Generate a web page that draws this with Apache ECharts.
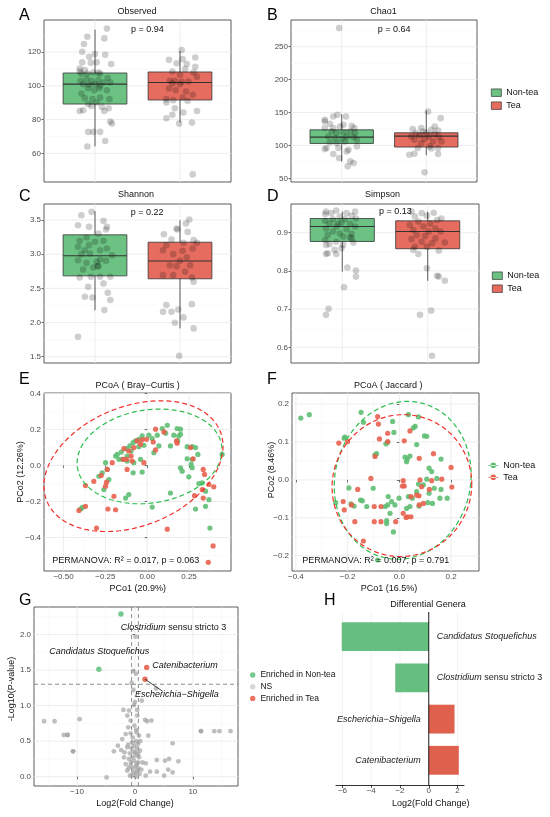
<!DOCTYPE html>
<html><head><meta charset="utf-8">
<script src="https://cdn.jsdelivr.net/npm/echarts@6/dist/echarts.min.js"></script>
<style>html,body{margin:0;padding:0;background:#fff}#c{width:550px;height:817px}</style>
</head><body><div id="c"></div>
<script>
// ===================== DATA =====================
const groups = ['Non-tea', 'Tea'];
const groupPos = [1, 2];
// boxplot stats: [lower whisker, Q1, median, Q3, upper whisker]
const obsBoxNonTea = [64.1, 89.2, 101.0, 107.6, 133.3];
const obsBoxTea = [78.4, 91.6, 102.0, 108.2, 120.6];
const chaoBoxNonTea = [75.3, 103.0, 112.6, 123.7, 147.5];
const chaoBoxTea = [85.0, 97.5, 114.1, 119.2, 153.0];
const shanBoxNonTea = [2.18, 2.683, 2.976, 3.283, 3.628];
const shanBoxTea = [1.914, 2.64, 2.90, 3.175, 3.497];
const simpBoxNonTea = [0.798, 0.877, 0.916, 0.937, 0.955];
const simpBoxTea = [0.774, 0.858, 0.903, 0.931, 0.955];
// jittered samples: [jitter offset from group position, value]
const obsPtsNonTea = [[0.14,133.9],[-0.09,129.1],[0.11,128.1],[-0.13,124.8],[-0.15,120.2],[-0.07,117.2],[0.0,118.8],[0.12,118.4],[0.19,112.9],[-0.15,113.9],[-0.05,113.7],[0.02,113.9],[-0.18,110.3],[-0.12,109.3],[-0.16,107.3],[-0.09,107.3],[-0.02,107.9],[0.06,107.3],[0.15,104.6],[-0.17,103.0],[-0.10,104.0],[-0.04,103.0],[0.04,103.4],[0.10,102.0],[0.18,102.0],[-0.14,101.0],[-0.07,100.6],[0.0,101.0],[0.06,100.0],[-0.16,95.4],[-0.08,98.6],[-0.01,97.4],[0.05,98.6],[0.14,97.4],[-0.12,92.7],[-0.03,92.1],[0.06,93.1],[0.17,92.1],[-0.08,89.1],[0.02,90.1],[-0.14,85.5],[-0.04,88.1],[0.08,87.5],[0.16,86.7],[-0.18,85.1],[0.11,85.1],[0.18,78.8],[0.20,77.6],[-0.08,72.7],[0.06,72.7],[-0.02,72.7],[0.12,67.3],[-0.09,64.0],[0.04,107.9],[-0.18,108.5]];
const obsPtsTea = [[0.02,121.2],[-0.13,115.4],[0.18,116.8],[0.03,115.8],[-0.04,113.3],[0.08,112.9],[0.18,111.3],[-0.09,108.5],[0.06,109.9],[0.16,107.9],[0,106.5],[-0.12,103.0],[-0.06,103.0],[0.02,102.4],[0.10,102.6],[0.20,105.3],[-0.09,101.4],[0,101.0],[-0.13,98.4],[-0.05,97.4],[0.07,96.6],[0.15,94.7],[0.03,93.1],[-0.16,92.1],[-0.08,91.5],[0.09,91.1],[-0.16,90.1],[0.20,85.1],[-0.06,86.7],[0.04,84.2],[-0.09,82.8],[-0.16,80.8],[-0.01,77.6],[0.14,78.2],[0.15,47.5]];
const chaoPtsNonTea = [[-0.03,278.3],[-0.05,146.5],[-0.10,143.9],[0.05,143.9],[-0.20,136.4],[-0.14,132.8],[0.02,131.3],[0.12,129.8],[-0.20,126.3],[-0.10,126.3],[-0.02,128.8],[0.15,126.3],[-0.12,121.2],[-0.06,118.7],[0.02,119.7],[0.10,121.2],[0.16,118.7],[-0.16,113.6],[-0.08,111.1],[0,109.6],[0.06,113.6],[0.14,112.6],[0.18,108.6],[-0.14,104.5],[-0.06,103.5],[0.04,106.1],[-0.18,96],[-0.04,96],[0.08,93.4],[0.18,98.5],[-0.10,86.9],[0.06,90.9],[-0.03,80.8],[0.10,75.8],[0.14,73.2],[0.07,68.2],[-0.20,94.4],[-0.20,138.9]];
const chaoPtsTea = [[0.02,151.5],[0.17,141.4],[-0.16,124.7],[-0.06,126.3],[0.06,123.7],[0.14,122.7],[-0.12,118.7],[0,119.7],[0.10,117.7],[-0.18,113.6],[-0.08,114.6],[0.03,113.6],[0.15,112.6],[-0.14,108.6],[-0.02,109.6],[0.08,106.1],[0.18,106.1],[-0.06,103.5],[0.04,98.5],[0.14,96],[-0.10,96],[0.06,95.5],[-0.20,85.9],[-0.14,87.4],[0.14,86.9],[-0.02,59.1],[0.10,128.8],[-0.04,121.2]];
const shanPtsNonTea = [[-0.04,3.619],[-0.16,3.570],[0.10,3.487],[-0.20,3.424],[-0.07,3.40],[0.14,3.40],[0.13,3.36],[0.04,3.302],[-0.10,3.244],[-0.18,3.195],[0,3.18],[0.10,3.195],[-0.07,3.132],[-0.20,3.107],[-0.12,3.058],[0.06,3.058],[0.14,3.083],[-0.16,3.0],[-0.06,3.01],[0.20,2.985],[0.06,2.922],[-0.20,2.912],[-0.10,2.873],[0.02,2.888],[0.13,2.903],[-0.02,2.805],[0.04,2.825],[-0.14,2.776],[-0.18,2.659],[-0.05,2.669],[0.06,2.669],[0.18,2.669],[-0.08,2.523],[0.10,2.571],[-0.12,2.377],[-0.03,2.367],[0.15,2.435],[0.18,2.328],[0.11,2.182],[-0.20,1.792],[0.03,2.825]];
const shanPtsTea = [[0.11,3.507],[0.07,3.448],[-0.03,3.36],[0.09,3.326],[-0.19,3.292],[-0.10,3.214],[0.16,3.205],[0.20,3.166],[-0.16,3.132],[0.04,3.166],[0.15,3.083],[-0.20,3.058],[0.03,3.049],[-0.08,3.0],[0.08,2.951],[0,2.903],[-0.12,2.839],[-0.04,2.825],[0.12,2.839],[-0.08,2.693],[0.06,2.742],[-0.20,2.693],[0.14,2.659],[0.16,2.596],[-0.16,2.255],[0.14,2.269],[-0.20,2.157],[-0.10,2.157],[-0.02,2.191],[0.04,2.075],[-0.06,1.997],[0.16,1.914],[-0.01,1.514],[-0.04,3.375]];
const simpPtsNonTea = [[-0.07,0.958],[-0.19,0.955],[-0.13,0.951],[0.15,0.955],[-0.20,0.949],[0.05,0.951],[-0.03,0.942],[0.11,0.944],[-0.11,0.935],[-0.20,0.931],[0.03,0.935],[0.16,0.937],[-0.15,0.924],[-0.01,0.926],[0.09,0.923],[-0.07,0.916],[-0.19,0.911],[0.05,0.909],[0.15,0.916],[-0.11,0.903],[-0.03,0.898],[0.11,0.897],[-0.17,0.894],[0.01,0.890],[0.09,0.888],[-0.20,0.881],[-0.07,0.876],[0.13,0.874],[-0.15,0.870],[0.01,0.868],[-0.19,0.868],[-0.09,0.855],[-0.01,0.859],[-0.19,0.844],[-0.07,0.844],[-0.17,0.846],[0.06,0.809],[0.16,0.801],[0.16,0.785],[0.02,0.757],[-0.16,0.701],[-0.19,0.685],[0.11,0.885],[-0.05,0.924]];
const simpPtsTea = [[-0.19,0.955],[-0.07,0.951],[0.07,0.952],[0.16,0.937],[-0.15,0.942],[-0.01,0.944],[0.11,0.933],[-0.11,0.929],[0.03,0.924],[-0.21,0.920],[-0.05,0.916],[0.09,0.911],[-0.17,0.907],[0.01,0.903],[0.15,0.903],[-0.13,0.894],[-0.03,0.891],[0.09,0.885],[0.20,0.874],[-0.19,0.883],[-0.07,0.876],[0.05,0.872],[-0.15,0.863],[-0.01,0.863],[-0.17,0.855],[0.13,0.853],[-0.11,0.844],[-0.01,0.807],[0.11,0.787],[0.13,0.785],[0.20,0.774],[-0.09,0.685],[0.04,0.696],[0.05,0.578]];
const pValues = ['p = 0.94', 'p = 0.64', 'p = 0.22', 'p = 0.13'];

// PCoA coordinates [PCo1, PCo2]
const brayNonTea = [[0.120,0.223],[0.090,0.205],[0.179,0.205],[0.199,0.173],[0.159,0.168],[0.183,0.136],[0.110,0.179],[0.139,0.108],[0.060,0.168],[0.030,0.149],[0.010,0.168],[-0.030,0.164],[-0.050,0.145],[-0.070,0.136],[-0.084,0.127],[-0.104,0.108],[-0.124,0.093],[-0.155,0.074],[-0.179,0.061],[-0.189,0.052],[-0.169,0.034],[-0.120,0.052],[-0.096,0.080],[-0.050,0.104],[-0.020,0.112],[-0.249,0.015],[-0.239,-0.022],[-0.269,-0.041],[-0.289,-0.060],[-0.229,-0.078],[-0.259,-0.134],[-0.149,0.034],[-0.120,0.024],[-0.080,0.015],[-0.040,0.034],[0.040,0.071],[0.070,0.108],[0.239,0.104],[0.269,0.104],[0.289,0.099],[0.303,0.061],[0.239,0.037],[0.269,0.034],[0.263,0.006],[0.269,-0.013],[0.199,-0.013],[0.209,-0.032],[0.249,-0.063],[0.309,-0.101],[0.329,-0.097],[0.349,-0.143],[0.369,-0.190],[0.349,-0.227],[0.289,-0.242],[0.030,-0.231],[0.139,-0.153],[-0.129,-0.181],[-0.110,-0.162],[-0.388,-0.233],[-0.398,-0.242],[0.375,-0.348],[0.448,0.061],[-0.030,-0.037],[-0.084,-0.041],[0.189,0.164],[0.199,0.201]];
const brayTea = [[0.050,0.201],[-0.004,0.145],[-0.030,0.142],[-0.060,0.136],[-0.040,0.117],[-0.139,0.093],[-0.110,0.080],[-0.096,0.052],[-0.143,0.034],[-0.124,0.034],[-0.120,-0.022],[-0.020,0.015],[0.036,0.130],[0.050,0.086],[-0.080,0.099],[-0.090,0.024],[-0.209,0.015],[-0.275,-0.056],[-0.239,-0.022],[-0.319,-0.088],[-0.369,-0.112],[-0.243,-0.093],[-0.249,-0.115],[-0.235,-0.242],[-0.189,-0.246],[-0.199,-0.171],[-0.303,-0.348],[-0.408,-0.250],[-0.369,-0.227],[0.175,0.136],[0.179,0.123],[0.259,0.099],[0.275,0.037],[0.335,-0.022],[0.343,-0.050],[0.369,-0.106],[0.398,-0.119],[0.329,-0.134],[0.283,-0.168],[0.335,-0.181],[0.120,-0.354],[0.394,-0.447],[0.365,-0.538],[0.100,0.186]];
const jacNonTea = [[-0.381,0.163],[-0.348,0.172],[-0.213,0.110],[-0.210,0.113],[-0.148,0.178],[-0.139,0.152],[-0.094,0.066],[-0.088,0.069],[-0.052,0.095],[-0.045,0.099],[-0.026,0.154],[-0.021,0.125],[0.035,0.172],[0.074,0.166],[0.061,0.141],[0.054,0.137],[0.097,0.116],[0.106,0.115],[0.067,0.093],[0.022,0.060],[0.031,0.055],[0.041,0.063],[0.028,0.048],[0.161,0.055],[0.125,0.022],[0.115,0.031],[0.106,0.002],[0.093,-0.013],[0.074,-0.011],[0.145,0.004],[0.135,-0.022],[0.115,-0.035],[0.161,-0.025],[0.157,-0.048],[0.185,-0.048],[0.128,-0.062],[0.110,-0.060],[0.076,-0.069],[0.050,-0.048],[0.035,-0.044],[0.041,-0.070],[0.067,-0.031],[0.028,-0.075],[-0.001,-0.048],[-0.030,-0.057],[-0.043,-0.044],[-0.045,-0.066],[-0.055,-0.070],[-0.017,-0.066],[-0.036,-0.088],[-0.049,-0.107],[-0.049,-0.115],[-0.023,-0.137],[-0.084,-0.211],[-0.101,-0.022],[-0.126,-0.070],[-0.195,-0.021],[-0.187,-0.063],[-0.175,-0.069],[-0.150,-0.053],[-0.143,-0.055],[-0.246,-0.060]];
const jacTea = [[-0.084,0.167],[-0.045,0.123],[-0.045,0.101],[0.019,0.103],[-0.077,0.108],[0.041,0.129],[-0.081,0.147],[-0.094,0.062],[0.077,0.057],[-0.110,0.004],[0.015,-0.002],[0.019,-0.016],[0.012,-0.016],[0.045,-0.044],[0.067,-0.040],[0.076,-0.042],[0.077,-0.066],[0.093,-0.062],[0.080,0.000],[0.125,-0.002],[0.132,0.069],[0.164,0.002],[0.200,0.033],[0.203,-0.019],[-0.161,-0.025],[-0.217,-0.057],[-0.213,-0.079],[-0.185,-0.066],[-0.172,-0.110],[-0.139,-0.161],[-0.097,-0.110],[-0.071,-0.110],[-0.071,-0.070],[-0.097,-0.070],[-0.014,-0.110],[0.015,-0.088],[0.032,-0.097],[0.045,-0.097],[0.026,-0.099],[-0.234,0.097],[-0.200,0.101],[0.116,-0.025],[0.086,-0.018]];
// 95% ellipses: [centre x, centre y, axis-1 x, axis-1 y, axis-2 x, axis-2 y] (conjugate semi-axes)
const ellipseBrayNonTea = [0.014, 0.050, 0.429, 0, 0.060, 0.263];
const ellipseBrayTea = [-0.082, -0.004, 0.510, 0, 0.163, 0.363];
const ellipseJacNonTea = [0.013, -0.001, 0.264, 0, 0.019, 0.208];
const ellipseJacTea = [0.010, -0.015, 0.270, 0, 0.006, 0.187];
const permanova = ['PERMANOVA: R\u00B2 = 0.017, p = 0.063', 'PERMANOVA: R\u00B2 = 0.007, p = 0.791'];

// Volcano: [log2 fold change, -log10 p]
const volcNS = [[-15.7,0.78],[-13.9,0.78],[-9.57,0.81],[-12.3,0.587],[-11.65,0.587],[-11.65,0.587],[-10.7,0.357],[-10.7,0.357],[11.4,0.64],[11.4,0.64],[13.7,0.64],[14.6,0.64],[16.5,0.64],[6.5,0.47],[7.5,0.216],[3.77,0.235],[5.2,0.225],[5.9,0.25],[5.74,0.1],[6.5,0.06],[5.04,0.014],[3.77,0.07],[2.6,0.07],[1.86,0.014],[-4.9,-0.01],[2.3,0.577],[1.74,0.8],[2.1,0.78],[2.84,0.79],[1.16,1.07],[-0.17,1.01],[0.4,0.94],[-1.04,0.93],[-2.0,0.94],[-1.33,0.86],[-0.75,0.79],[-1.16,0.695],[0.4,0.86],[-1.6,0.6],[-0.75,0.61],[0.3,0.624],[0.7,0.577],[-2.2,0.53],[-2.96,0.437],[-3.65,0.357],[-2.38,0.375],[-1.33,0.413],[-0.17,0.437],[0.52,0.46],[-1.8,0.343],[-0.87,0.329],[0.12,0.343],[0.87,0.366],[-0.46,0.272],[-1.6,0.178],[-0.75,0.155],[0.3,0.178],[1.28,0.2],[1.86,0.188],[-1.33,0.085],[-0.29,0.06],[0.4,0.085],[-0.87,0.014],[0.12,0],[-0.17,0.225],[0.7,0.272],[-1.04,0.25],[-1.9,0.272],[0.1,1.97],[-0.3,1.49],[0.17,1.45],[-0.58,1.32],[-0.29,1.22],[3.64,1.24],[0,1.05],[0.2,0.5],[-0.4,0.55],[0.1,0.3],[-0.6,0.4],[0.5,0.2],[-0.3,0.12],[0.25,0.05],[-0.5,0.02],[0.6,0.12],[-1.2,0.45],[0.9,0.5],[-0.1,0.72],[0.2,0.66],[-0.5,0.48],[0.35,0.4],[0.15,0.15],[-0.2,0.35],[0.55,0.32],[1.1,0.1],[-1.1,0.12],[0.8,0.04],[-0.7,0.2]];
const volcNonTea = [[-2.43,2.29],[-6.24,1.513]];
const volcTea = [[2.02,1.536],[1.73,1.372]];
const volcLeader = [[1.73,1.372],[4.8,1.2]];
const fcCut = [-0.585, 0.585];
const pCut = [1.301];

// Differential genera
const genera = ['Candidatus Stoquefichus', 'Clostridium sensu stricto 3', 'Escherichia\u2212Shigella', 'Catenibacterium'];
const generaRich = ['{i|Candidatus Stoquefichus}', '{i|Clostridium} sensu stricto 3', '{i|Escherichia\u2212Shigella}', '{i|Catenibacterium}'];
const generaLFC = [-6.05, -2.33, 1.79, 2.09];

// tick values
const obsTicks = [60, 80, 100, 120], obsMinor = [50, 70, 90, 110, 130];
const chaoTicks = [50, 100, 150, 200, 250], chaoMinor = [75, 125, 175, 225, 275];
const shanTicks = [1.5, 2.0, 2.5, 3.0, 3.5], shanMinor = [1.75, 2.25, 2.75, 3.25];
const simpTicks = [0.6, 0.7, 0.8, 0.9], simpMinor = [0.65, 0.75, 0.85, 0.95];
const brayXTicks = [-0.5, -0.25, 0, 0.25], brayXMinor = [-0.375, -0.125, 0.125, 0.375];
const brayYTicks = [-0.4, -0.2, 0, 0.2, 0.4], brayYMinor = [-0.5, -0.3, -0.1, 0.1, 0.3];
const jacXTicks = [-0.4, -0.2, 0, 0.2], jacXMinor = [-0.3, -0.1, 0.1, 0.3];
const jacYTicks = [-0.2, -0.1, 0, 0.1, 0.2], jacYMinor = [-0.15, -0.05, 0.05, 0.15];
const volXTicks = [-10, 0, 10], volXMinor = [-15, -5, 5, 15];
const volYTicks = [0, 0.5, 1, 1.5, 2], volYMinor = [0.25, 0.75, 1.25, 1.75, 2.25];
const barXTicks = [-6, -4, -2, 0, 2];

// ===================== STYLE / BUILD =====================
const FONT = '"Liberation Sans", Arial, Helvetica, sans-serif';
const GREEN_BOX = '#6BC283', RED_BOX = '#E66C5F';
const GREEN_PT = '#5EBE72', RED_PT = '#E8604E';
const GREEN_ELL = '#2DBE4E', RED_ELL = '#F0302A';
const GREEN_V = '#74C98E', RED_V = '#E9735F';
const GREEN_BAR = '#66BE80', RED_BAR = '#E0604E';

const fmt = d => v => (v < -1e-9 ? '\u2212' : '') + Math.abs(v).toFixed(d);

const gridPos = [
  {left: 44, top: 20, width: 187, height: 162},
  {left: 291, top: 20, width: 186, height: 162},
  {left: 44, top: 204, width: 187, height: 159},
  {left: 291, top: 204, width: 188, height: 159},
  {left: 44, top: 393, width: 187, height: 178},
  {left: 292, top: 393, width: 187, height: 178},
  {left: 34, top: 607, width: 204, height: 179},
  {left: 336, top: 616.1, width: 128, height: 164.8}
];
const grid = gridPos.map((g, i) => Object.assign({
  show: i < 7, borderColor: '#333', borderWidth: 0.8, backgroundColor: '#fff', containLabel: false
}, g));

function valAxis(gi, min, max, ticks, f, showLab, margin) {
  return {
    type: 'value', gridIndex: gi, min, max, scale: true,
    axisLine: {show: false}, splitLine: {show: false},
    axisTick: {show: showLab, length: 2.5, lineStyle: {color: '#333', width: 0.7}, customValues: ticks},
    axisLabel: {show: showLab, customValues: ticks, formatter: f, fontSize: 8, color: '#4D4D4D', margin: margin, fontFamily: FONT}
  };
}
const boxX = [0.4, 2.6];
const xAxis = [
  valAxis(0, boxX[0], boxX[1], groupPos, null, false, 2),
  valAxis(1, boxX[0], boxX[1], groupPos, null, false, 2),
  valAxis(2, boxX[0], boxX[1], groupPos, null, false, 2),
  valAxis(3, boxX[0], boxX[1], groupPos, null, false, 2),
  valAxis(4, -0.617, 0.501, brayXTicks, fmt(2), true, 2),
  valAxis(5, -0.415, 0.308, jacXTicks, fmt(1), true, 2),
  valAxis(6, -17.45, 17.8, volXTicks, fmt(0), true, 1.5),
  {type: 'value', gridIndex: 7, min: -6.45, max: 2.45, offset: 4.1,
   axisLine: {show: true, lineStyle: {color: '#000', width: 0.8}},
   axisTick: {show: true, length: 3, lineStyle: {color: '#000', width: 0.7}, customValues: barXTicks},
   axisLabel: {customValues: barXTicks, formatter: fmt(0), fontSize: 8, color: '#4D4D4D', margin: 2, fontFamily: FONT},
   splitLine: {show: false}}
];
const yRanges = [[43, 139], [44.4, 290.6], [1.408, 3.734], [0.559, 0.975], [-0.586, 0.402], [-0.24, 0.229], [-0.131, 2.388]];
const yAxis = [
  valAxis(0, 43, 139, obsTicks, fmt(0), true, 3),
  valAxis(1, 44.4, 290.6, chaoTicks, fmt(0), true, 3),
  valAxis(2, 1.408, 3.734, shanTicks, fmt(1), true, 3),
  valAxis(3, 0.559, 0.975, simpTicks, fmt(1), true, 3),
  valAxis(4, -0.586, 0.402, brayYTicks, fmt(1), true, 3),
  valAxis(5, -0.24, 0.229, jacYTicks, fmt(1), true, 3),
  valAxis(6, -0.131, 2.388, volYTicks, fmt(1), true, 3),
  {type: 'category', gridIndex: 7, data: genera, inverse: true, show: false}
];
const xRanges = [boxX, boxX, boxX, boxX, [-0.617, 0.501], [-0.415, 0.308], [-17.45, 17.8], [-6.45, 2.45]];

// reference / grid lines drawn through the axes' scales
function refLines(gi, hVals, vVals, style, z, ext) {
  ext = ext || 0;
  const xr = xRanges[gi], y0 = gi === 7 ? 0 : yRanges[gi][0];
  const items = hVals.map(v => ['h', v]).concat(vVals.map(v => ['v', v]));
  return {
    type: 'custom', xAxisIndex: gi, yAxisIndex: gi, z: z, silent: true, clip: false,
    data: items.map(() => [xr[0], y0]),
    renderItem(params, api) {
      const it = items[params.dataIndex], cs = params.coordSys;
      if (it[0] === 'h') {
        const y = api.coord([xr[0], it[1]])[1];
        return {type: 'line', shape: {x1: cs.x, y1: y, x2: cs.x + cs.width, y2: y}, style: style};
      }
      const x = api.coord([it[1], y0])[0];
      return {type: 'line', shape: {x1: x, y1: cs.y - ext, x2: x, y2: cs.y + cs.height + ext}, style: style};
    }
  };
}
const MAJ = {stroke: '#EBEBEB', lineWidth: 0.9};
const MIN = {stroke: '#F4F4F4', lineWidth: 0.5};

function boxSeries(gi, name, pos, stats, color) {
  return {
    type: 'custom', name: name, xAxisIndex: gi, yAxisIndex: gi, z: 2, silent: true,
    itemStyle: {color: color},
    data: [[pos].concat(stats)],
    encode: {x: 0, y: [1, 2, 3, 4, 5]},
    renderItem(params, api) {
      const p = api.value(0);
      const lo = api.coord([p, api.value(1)]), hi = api.coord([p, api.value(5)]);
      const a = api.coord([p - 0.375, api.value(2)]), b = api.coord([p + 0.375, api.value(4)]);
      const mA = api.coord([p - 0.375, api.value(3)]), mB = api.coord([p + 0.375, api.value(3)]);
      return {type: 'group', children: [
        {type: 'line', shape: {x1: lo[0], y1: lo[1], x2: hi[0], y2: hi[1]}, style: {stroke: '#333', lineWidth: 0.8}},
        {type: 'rect', shape: {x: a[0], y: b[1], width: b[0] - a[0], height: a[1] - b[1]}, style: {fill: color, stroke: '#333', lineWidth: 0.8}},
        {type: 'line', shape: {x1: mA[0], y1: mA[1], x2: mB[0], y2: mB[1]}, style: {stroke: '#333', lineWidth: 1.1}}
      ]};
    }
  };
}
function jitterSeries(gi, nonTea, tea) {
  const d = nonTea.map(p => [groupPos[0] + p[0], p[1]]).concat(tea.map(p => [groupPos[1] + p[0], p[1]]));
  return {type: 'scatter', name: 'samples', xAxisIndex: gi, yAxisIndex: gi, z: 3, silent: true,
    symbolSize: 6.6, itemStyle: {color: 'rgba(0,0,0,0.24)'}, data: d};
}
function ptSeries(gi, name, data, color, size, opacity) {
  return {type: 'scatter', name: name, xAxisIndex: gi, yAxisIndex: gi, z: 3, silent: true,
    symbolSize: size, itemStyle: {color: color, opacity: opacity}, data: data};
}
function ellipseSeries(gi, prm, color) {
  return {
    type: 'custom', xAxisIndex: gi, yAxisIndex: gi, z: 4, silent: true,
    data: [prm.slice(0, 2)],
    renderItem(params, api) {
      const pts = [];
      for (let k = 0; k <= 120; k++) {
        const t = k / 120 * Math.PI * 2, c = Math.cos(t), s = Math.sin(t);
        pts.push(api.coord([prm[0] + prm[2] * c + prm[4] * s, prm[1] + prm[3] * c + prm[5] * s]));
      }
      return {type: 'polyline', shape: {points: pts}, style: {stroke: color, fill: null, lineWidth: 1.2, lineDash: [5, 3]}};
    }
  };
}

const boxPanels = [
  [obsBoxNonTea, obsBoxTea, obsPtsNonTea, obsPtsTea, obsTicks, obsMinor],
  [chaoBoxNonTea, chaoBoxTea, chaoPtsNonTea, chaoPtsTea, chaoTicks, chaoMinor],
  [shanBoxNonTea, shanBoxTea, shanPtsNonTea, shanPtsTea, shanTicks, shanMinor],
  [simpBoxNonTea, simpBoxTea, simpPtsNonTea, simpPtsTea, simpTicks, simpMinor]
];
const series = [];
boxPanels.forEach((bp, gi) => {
  series.push(refLines(gi, bp[5], [], MIN, 0));
  series.push(refLines(gi, bp[4], groupPos, MAJ, 0));
  series.push(boxSeries(gi, groups[0], groupPos[0], bp[0], GREEN_BOX));
  series.push(boxSeries(gi, groups[1], groupPos[1], bp[1], RED_BOX));
  series.push(jitterSeries(gi, bp[2], bp[3]));
});
// PCoA
[[4, brayNonTea, brayTea, ellipseBrayNonTea, ellipseBrayTea, brayXTicks, brayXMinor, brayYTicks, brayYMinor],
 [5, jacNonTea, jacTea, ellipseJacNonTea, ellipseJacTea, jacXTicks, jacXMinor, jacYTicks, jacYMinor]].forEach(p => {
  const gi = p[0];
  series.push(refLines(gi, p[8], p[6], MIN, 0));
  series.push(refLines(gi, p[7], p[5], MAJ, 0));
  series.push(ptSeries(gi, groups[0], p[1], GREEN_PT, 5.2, 0.9));
  series.push(ptSeries(gi, groups[1], p[2], RED_PT, 5.2, 0.9));
  series.push(ellipseSeries(gi, p[3], GREEN_ELL));
  series.push(ellipseSeries(gi, p[4], RED_ELL));
});
// Volcano
series.push(refLines(6, volYMinor, volXMinor, MIN, 0));
series.push(refLines(6, volYTicks, volXTicks, MAJ, 0));
series.push(refLines(6, pCut, fcCut, {stroke: '#808080', lineWidth: 0.9, lineDash: [4, 3]}, 1));
series.push(ptSeries(6, 'NS', volcNS, '#A0A0A0', 4.8, 0.68));
series.push(ptSeries(6, 'Enriched in Non-tea', volcNonTea, GREEN_V, 5.4, 1));
series.push(ptSeries(6, 'Enriched in Tea', volcTea, RED_V, 5.4, 1));
series.push({type: 'line', xAxisIndex: 6, yAxisIndex: 6, data: volcLeader, symbol: 'none', silent: true, z: 4,
  lineStyle: {color: '#111', width: 0.8}});
// Differential genera bars
series.push(refLines(7, [], [-6, -4, -2, 2], {stroke: '#EFEFEF', lineWidth: 0.8}, 0, 4.1));
series.push(refLines(7, [], [0], {stroke: '#000', lineWidth: 0.9}, 5, 4.1));
series.push({
  type: 'bar', xAxisIndex: 7, yAxisIndex: 7, barWidth: '70%', silent: true, z: 2,
  data: generaLFC.map((v, i) => ({
    value: v,
    itemStyle: {color: v < 0 ? GREEN_BAR : RED_BAR},
    label: {position: v < 0 ? 'right' : 'left'}
  })),
  label: {show: true, distance: 8, fontSize: 9, color: '#222', fontFamily: FONT,
    formatter: p => generaRich[p.dataIndex],
    rich: {i: {fontStyle: 'italic', fontSize: 9, color: '#222', fontFamily: FONT}}}
});

// legends
const legText = {fontSize: 9, fontFamily: FONT, color: '#111', lineHeight: 11};
const PT_KEY = 'path://M0,2.45H10V3.15H0Z M5,0 A2.8,2.8 0 1,0 5,5.6 A2.8,2.8 0 1,0 5,0Z';
const legend = [
  {left: 491, top: 87.2, orient: 'vertical', padding: 0, itemGap: 2, itemWidth: 10, itemHeight: 7.5, selectedMode: false, textStyle: legText,
   data: [{name: groups[0], icon: 'rect', itemStyle: {color: GREEN_BOX, borderColor: '#333', borderWidth: 0.7}},
          {name: groups[1], icon: 'rect', itemStyle: {color: RED_BOX, borderColor: '#333', borderWidth: 0.7}}]},
  {left: 492, top: 270.2, orient: 'vertical', padding: 0, itemGap: 2, itemWidth: 10, itemHeight: 7.5, selectedMode: false, textStyle: legText,
   data: [{name: groups[0], icon: 'rect', itemStyle: {color: GREEN_BOX, borderColor: '#333', borderWidth: 0.7}},
          {name: groups[1], icon: 'rect', itemStyle: {color: RED_BOX, borderColor: '#333', borderWidth: 0.7}}]},
  {left: 488.3, top: 459.8, orient: 'vertical', padding: 0, itemGap: 1, itemWidth: 10, itemHeight: 5.6, selectedMode: false, textStyle: legText,
   data: [{name: groups[0], icon: PT_KEY, itemStyle: {color: GREEN_PT, borderWidth: 0}},
          {name: groups[1], icon: PT_KEY, itemStyle: {color: RED_PT, borderWidth: 0}}]},
  {left: 250, top: 670, orient: 'vertical', padding: 0, itemGap: 1.7, itemWidth: 5.4, itemHeight: 5.4, selectedMode: false,
   textStyle: {fontSize: 8.5, fontFamily: FONT, color: '#111', lineHeight: 10},
   data: [{name: 'Enriched in Non-tea', icon: 'circle', itemStyle: {color: GREEN_V}},
          {name: 'NS', icon: 'circle', itemStyle: {color: '#C4C4C4'}},
          {name: 'Enriched in Tea', icon: 'circle', itemStyle: {color: RED_V}}]}
];

// texts
function T(text, x, y, o) {
  return {type: 'text', x: x, y: y, silent: true, z: 10, rotation: (o && o.rot) || 0,
    style: Object.assign({text: text, fontSize: 9, fontFamily: FONT, fill: '#111', align: 'center', verticalAlign: 'middle'}, o && o.s)};
}
const L = (t, x, y) => T(t, x, y, {s: {fontSize: 16, align: 'left', fill: '#000'}});
const italicRich = {i: {fontStyle: 'italic', fontSize: 9, fontFamily: FONT, fill: '#111'}};
const graphic = [
  L('A', 19, 15.5), L('B', 267, 15.5), L('C', 19, 196.8), L('D', 267, 197), L('E', 19, 380), L('F', 267, 380), L('G', 19, 601), L('H', 324, 600.5),
  T('Observed', 137, 11.7), T('Chao1', 383.5, 12), T('Shannon', 136, 194.7), T('Simpson', 382.5, 194.7),
  T('PCoA ( Bray\u2212Curtis )', 137.7, 386), T('PCoA ( Jaccard )', 388.3, 386),
  T(pValues[0], 131, 30, {s: {align: 'left'}}), T(pValues[1], 377.7, 30, {s: {align: 'left'}}),
  T(pValues[2], 130.7, 212.3, {s: {align: 'left'}}), T(pValues[3], 379, 212, {s: {align: 'left'}}),
  T(permanova[0], 52.3, 561, {s: {align: 'left'}}), T(permanova[1], 302.3, 561, {s: {align: 'left'}}),
  T('PCo1 (20.9%)', 137.7, 588.3), T('PCo1 (16.5%)', 389, 588.3),
  T('PCo2 (12.26%)', 21, 472, {rot: Math.PI / 2}), T('PCo2 (8.46%)', 271.5, 470, {rot: Math.PI / 2}),
  T('-Log10(P-value)', 11.7, 689, {rot: Math.PI / 2}),
  T('Log2(Fold Change)', 135, 803.3), T('Log2(Fold Change)', 430.7, 803.3),
  T('Differential Genera', 428, 605),
  T('{i|Clostridium} sensu stricto 3', 120.7, 627.3, {s: {align: 'left', rich: italicRich}}),
  T('{i|Candidatus Stoquefichus}', 49.3, 651.7, {s: {align: 'left', rich: italicRich}}),
  T('{i|Catenibacterium}', 152.3, 665, {s: {align: 'left', rich: italicRich}}),
  T('{i|Escherichia\u2212Shigella}', 135, 694, {s: {align: 'left', rich: italicRich}})
];

const chart = echarts.init(document.getElementById('c'), null, {renderer: 'canvas'});
chart.setOption({
  animation: false, backgroundColor: '#fff',
  textStyle: {fontFamily: FONT},
  grid, xAxis, yAxis, legend, series, graphic
});
</script></body></html>
